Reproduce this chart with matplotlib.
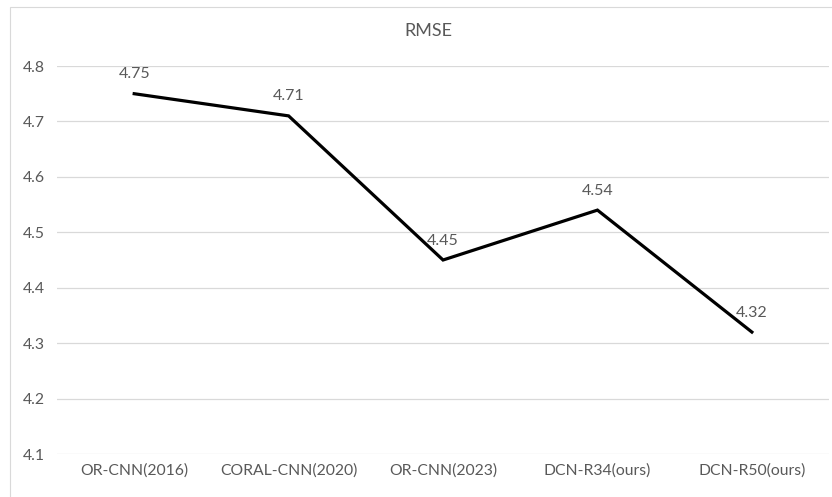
import matplotlib.pyplot as plt
from matplotlib.patches import Rectangle

plt.rcParams['font.family'] = ['Lato', 'DejaVu Sans']

models = ["OR-CNN(2016)", "CORAL-CNN(2020)", "OR-CNN(2023)", "DCN-R34(ours)", "DCN-R50(ours)"]
rmse = [4.75, 4.71, 4.45, 4.54, 4.32]
yticks = [4.1, 4.2, 4.3, 4.4, 4.5, 4.6, 4.7, 4.8]

grey = "#595959"

fig = plt.figure(figsize=(8.32, 4.97), dpi=100)
ax = fig.add_axes([0.0685, 0.0865, 0.928, 0.7807])

# chart area frame
fig.patches.append(Rectangle((10 / 832, -0.01), 1.0, 1 - 7 / 497 + 0.01,
                             transform=fig.transFigure, fill=False,
                             edgecolor="#d9d9d9", linewidth=0.8))

x = list(range(len(models)))
ax.plot(x, rmse, color="black", linewidth=2.3, solid_joinstyle="miter")
for xi, v in zip(x, rmse):
    ax.annotate(f"{v:.2f}", (xi, v), xytext=(0, 9), textcoords="offset points",
                ha="center", va="bottom", fontsize=11.5, color=grey)

ax.set_xlim(-0.5, len(models) - 0.5)
ax.set_ylim(4.1, 4.8)
ax.set_yticks(yticks)
ax.set_yticklabels([f"{t:.1f}" for t in yticks])
ax.set_xticks(x)
ax.set_xticklabels(models)
ax.tick_params(axis="both", length=0, labelsize=11.3, labelcolor=grey)
ax.tick_params(axis="y", pad=8.5)
ax.tick_params(axis="x", pad=7)
ax.grid(axis="y", color="#d9d9d9", linewidth=0.9)
ax.set_axisbelow(True)
for s in ax.spines.values():
    s.set_visible(False)

fig.text(428 / 832, 1 - 31 / 497, "RMSE", ha="center", va="center", fontsize=13, color=grey)

fig.savefig("out.png", dpi=100)
